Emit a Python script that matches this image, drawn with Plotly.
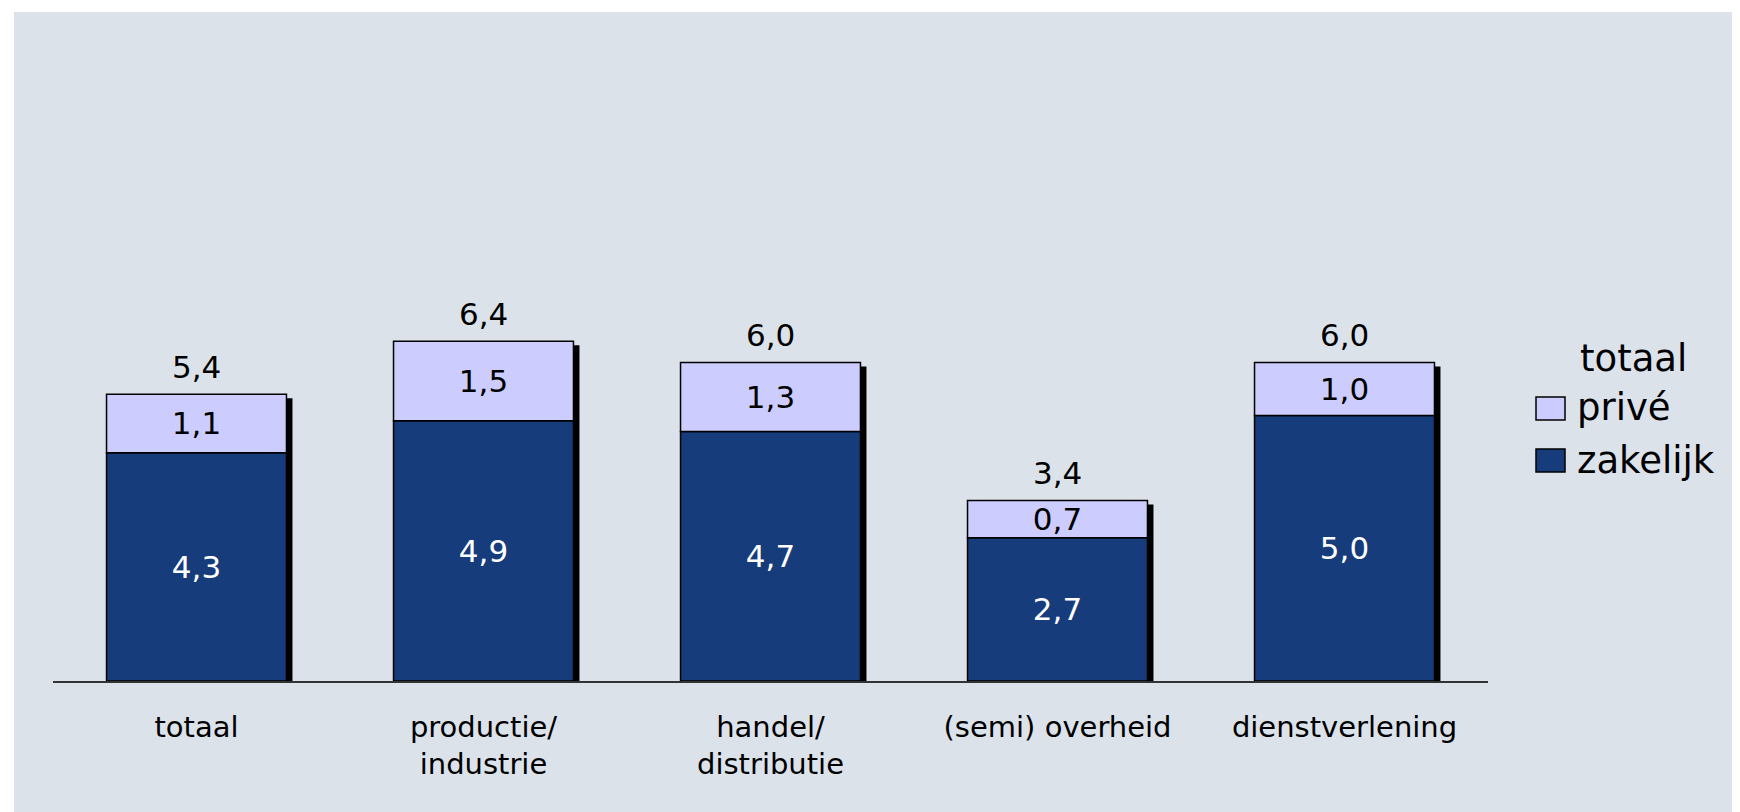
import plotly.graph_objects as go

categories = ["totaal", "productie/<br>industrie", "handel/<br>distributie", "(semi) overheid", "dienstverlening"]
zakelijk = [4.3, 4.9, 4.7, 2.7, 5.0]
prive = [1.1, 1.5, 1.3, 0.7, 1.0]
totaal = [5.4, 6.4, 6.0, 3.4, 6.0]
legend_title = "totaal"
series_names = ["privé", "zakelijk"]

def fmt(v):
    return f"{v:.1f}".replace(".", ",")

OFF = 8  # page body margin
W, H = 1732, 804
L = 53 - OFF
PLOT_RIGHT = 1488 - OFF
BASE = 681 - OFF
TOP = 12 - OFF
R = W - PLOT_RIGHT
T = TOP
B = H - BASE
PW, PH = W - L - R, H - T - B
YMAX = 12.6
px_per_unit = PH / YMAX
bar_w = 0.627
dx = 6 / (PW / 5)          # shadow shift right (x units)
drop = 4 / px_per_unit     # shadow drop (y units)
below = 2 / px_per_unit

def pxx(p):  # screenshot x -> paper
    return (p - OFF - L) / PW

def pxy(p):  # screenshot y -> paper
    return (BASE - (p - OFF)) / PH

DARK = "#173C7B"
LIGHT = "#CCCCFF"
BG = "#DBE2EA"
FONT = "DejaVu Sans"

fig = go.Figure()
fig.add_trace(go.Bar(
    x=categories, y=[t - drop + below for t in totaal], base=-below,
    width=bar_w, offset=-bar_w / 2 + dx,
    marker=dict(color="black", line=dict(width=0)),
    showlegend=False, hoverinfo="skip"))
fig.add_trace(go.Bar(
    x=categories, y=zakelijk, base=0, name=series_names[1],
    width=bar_w, marker=dict(color=DARK, line=dict(color="black", width=1.5)),
    text=[fmt(v) for v in zakelijk], textposition="inside", insidetextanchor="middle",
    textangle=0, constraintext="none",
    textfont=dict(family=FONT, size=31, color="white"), showlegend=False))
fig.add_trace(go.Bar(
    x=categories, y=prive, base=zakelijk, name=series_names[0],
    width=bar_w, marker=dict(color=LIGHT, line=dict(color="black", width=1.5)),
    text=[fmt(v) for v in prive], textposition="inside", insidetextanchor="middle",
    textangle=0, constraintext="none",
    textfont=dict(family=FONT, size=31, color="black"), showlegend=False))

annotations = []
for c, t in zip(categories, totaal):
    annotations.append(dict(x=c, y=t, xref="x", yref="y", text=fmt(t), showarrow=False,
                            yanchor="bottom", yshift=7,
                            font=dict(family=FONT, size=31, color="black")))

# legend (manual, to get large symbols)
annotations.append(dict(x=pxx(1578), y=pxy(358), xref="paper", yref="paper", text=legend_title,
                        showarrow=False, xanchor="left", yanchor="middle",
                        font=dict(family=FONT, size=37, color="black")))
shapes = [dict(type="rect", xref="paper", yref="paper", x0=pxx(14), x1=pxx(1760),
               y0=pxy(830), y1=pxy(12), fillcolor=BG, line=dict(width=0), layer="below")]
leg_rows = [(series_names[0], LIGHT, 408, 397, 420), (series_names[1], DARK, 460, 449, 472)]
for name, col, yc, ytop, ybot in leg_rows:
    shapes.append(dict(type="rect", xref="paper", yref="paper", x0=pxx(1536), x1=pxx(1565),
                       y0=pxy(ybot), y1=pxy(ytop), fillcolor=col,
                       line=dict(color="black", width=1.5)))
    annotations.append(dict(x=pxx(1575), y=pxy(yc), xref="paper", yref="paper", text=name,
                            showarrow=False, xanchor="left", yanchor="middle",
                            font=dict(family=FONT, size=37, color="black")))

fig.update_layout(
    width=W, height=H, barmode="overlay",
    margin=dict(l=L, r=R, t=T, b=B, pad=0),
    paper_bgcolor="white", plot_bgcolor=BG,
    showlegend=False, shapes=shapes, annotations=annotations,
    font=dict(family=FONT, color="black"),
    xaxis=dict(range=[-0.5, 4.5], showline=True, linecolor="#333333", linewidth=1.5,
               showgrid=False, zeroline=False, ticks="outside", ticklen=19,
               tickcolor="rgba(0,0,0,0)", tickfont=dict(family=FONT, size=29, color="black")),
    yaxis=dict(range=[0, YMAX], visible=False, showgrid=False, zeroline=False),
)

fig.write_html("out.html")
